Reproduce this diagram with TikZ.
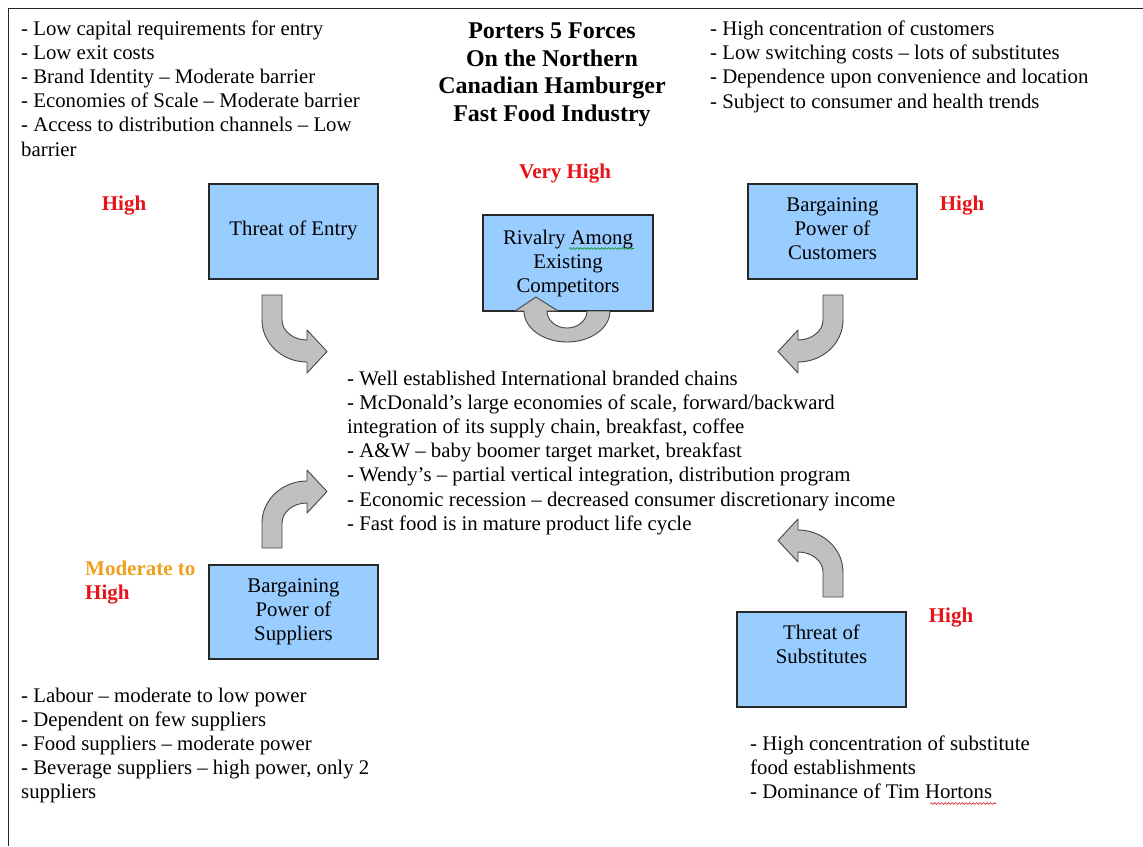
\documentclass[tikz,border=0pt]{standalone}
\usepackage{fontspec}
\usetikzlibrary{decorations.pathmorphing}
\setmainfont{Liberation Serif}
\definecolor{boxblue}{RGB}{153,204,255}
\definecolor{boxedge}{RGB}{40,40,40}
\definecolor{arrowgray}{RGB}{192,192,192}
\definecolor{arrowedge}{RGB}{70,70,70}
\definecolor{hired}{RGB}{230,20,25}
\definecolor{modorange}{RGB}{240,160,30}
\newcommand\myBentArrow{(0,0) -- (20,0) -- (20,25) .. controls (20,36) and (31.2,45) .. (45,45) -- (45,35) -- (65,56.5) -- (45,78) -- (45,67) .. controls (20.2,67) and (0,48.2) .. (0,25) -- cycle}
\begin{document}
\begin{tikzpicture}[x=1pt,y=-1pt,
  body/.style={inner sep=0pt,anchor=base west,font=\fontsize{20.8}{24.2}\selectfont},
  bodyc/.style={inner sep=0pt,anchor=base,font=\fontsize{20.8}{24.2}\selectfont},
  titletext/.style={inner sep=0pt,anchor=base,font=\fontsize{24}{27.8}\selectfont\bfseries},
  level/.style={inner sep=0pt,anchor=base,font=\fontsize{21}{24.2}\selectfont\bfseries,text=hired},
  forcebox/.style={draw=boxedge,line width=1.2pt,fill=boxblue,inner sep=0pt,minimum width=169pt,minimum height=95pt},
  bent/.style={draw=arrowedge,line width=0.9pt,fill=arrowgray,line join=round},
  squiggle/.style={line width=0.6pt,decorate,decoration={snake,amplitude=0.9pt,segment length=3.5pt}}]
\useasboundingbox (0,0) rectangle (1143,846);
\fill[white] (0,0) rectangle (1143,846);
% frame
\draw[line width=1.6pt,draw=black!85] (1143,8.5) -- (8.5,8.5) -- (8.5,846);

% top-left list
\foreach \t [count=\i] in {{- Low capital requirements for entry},{- Low exit costs},{- Brand Identity – Moderate barrier},{- Economies of Scale – Moderate barrier},{- Access to distribution channels – Low},{barrier}}
  \node[body] (tl\i) at (21,{35+24.2*(\i-1)}) {\t};

% title
\foreach \t [count=\i] in {{Porters 5 Forces},{On the Northern},{Canadian Hamburger},{Fast Food Industry}}
  \node[titletext] (title\i) at (552,{38.3+27.8*(\i-1)}) {\t};

% top-right list
\foreach \t [count=\i] in {{- High concentration of customers},{- Low switching costs – lots of substitutes},{- Dependence upon convenience and location},{- Subject to consumer and health trends}}
  \node[body] (tr\i) at (710,{35.5+24.2*(\i-1)}) {\t};

% levels
\node[level] (lvlentry) at (124,210) {High};
\node[level] (lvlrivalry) at (565,178) {Very High};
\node[level] (lvlcust) at (962,210) {High};
\node[level,anchor=base west,text=modorange] (lvlsup1) at (85,575) {Moderate to};
\node[level,anchor=base west] (lvlsup2) at (85,599) {High};
\node[level] (lvlsubs) at (951,622) {High};

% boxes
\node[forcebox] (entry) at (293.5,231.5) {};
\node[forcebox,minimum width=170pt,minimum height=96pt] (rivalry) at (568,263) {};
\node[forcebox] (customers) at (832.5,231.5) {};
\node[forcebox,minimum height=94pt] (suppliers) at (293.5,612) {};
\node[forcebox] (substitutes) at (821.5,659.5) {};

% box texts
\node[bodyc] (entrytxt) at (293.5,235) {Threat of Entry};
\node[bodyc] (riv1) at (568,244) {Rivalry Among};
\node[bodyc] (riv2) at (568,268) {Existing};
\node[bodyc] (riv3) at (568,292) {Competitors};
\node[bodyc] (cus1) at (832.5,211) {Bargaining};
\node[bodyc] (cus2) at (832.5,235) {Power of};
\node[bodyc] (cus3) at (832.5,259) {Customers};
\node[bodyc] (sup1) at (293.5,592) {Bargaining};
\node[bodyc] (sup2) at (293.5,616) {Power of};
\node[bodyc] (sup3) at (293.5,640) {Suppliers};
\node[bodyc] (sub1) at (821.5,639) {Threat of};
\node[bodyc] (sub2) at (821.5,663) {Substitutes};

% rivalry U-turn arrow
\draw[bent] (610,311) .. controls (610,328.1) and (590.7,342) .. (567,342)
  .. controls (543.3,342) and (524,328.1) .. (524,311)
  -- (515,311) -- (536,297) -- (558,311) -- (547,311)
  .. controls (547,320.4) and (556,328) .. (567,328)
  .. controls (578,328) and (587,320.4) .. (587,311) -- cycle;

% bent arrows
\draw[bent,shift={(262,295)}] \myBentArrow;
\draw[bent,shift={(843,295)},xscale=-1] \myBentArrow;
\draw[bent,shift={(262,548)},yscale=-1] \myBentArrow;
\draw[bent,shift={(843,597)},xscale=-1,yscale=-1] \myBentArrow;

% centre list
\foreach \t [count=\i] in {{- Well established International branded chains},{- McDonald’s large economies of scale, forward/backward},{integration of its supply chain, breakfast, coffee},{- A\&W – baby boomer target market, breakfast},{- Wendy’s – partial vertical integration, distribution program},{- Economic recession – decreased consumer discretionary income},{- Fast food is in mature product life cycle}}
  \node[body] (mid\i) at (347,{385+24.2*(\i-1)}) {\t};

% bottom-left list
\foreach \t [count=\i] in {{- Labour – moderate to low power},{- Dependent on few suppliers},{- Food suppliers – moderate power},{- Beverage suppliers – high power, only 2},{suppliers}}
  \node[body] (bl\i) at (21,{702+24.2*(\i-1)}) {\t};

% bottom-right list
\foreach \t [count=\i] in {{- High concentration of substitute},{food establishments},{- Dominance of Tim Hortons}}
  \node[body] (br\i) at (750,{750+24.2*(\i-1)}) {\t};

% spell-check underlines
\coordinate (sqa1) at (569,248.5);
\coordinate (sqa2) at (634,248.5);
\draw[squiggle,draw=green!55!black] (sqa1) -- (sqa2);
\coordinate (sqb1) at (930,803.5);
\coordinate (sqb2) at (996,803.5);
\draw[squiggle,draw=red!85!black] (sqb1) -- (sqb2);
\end{tikzpicture}
\end{document}
